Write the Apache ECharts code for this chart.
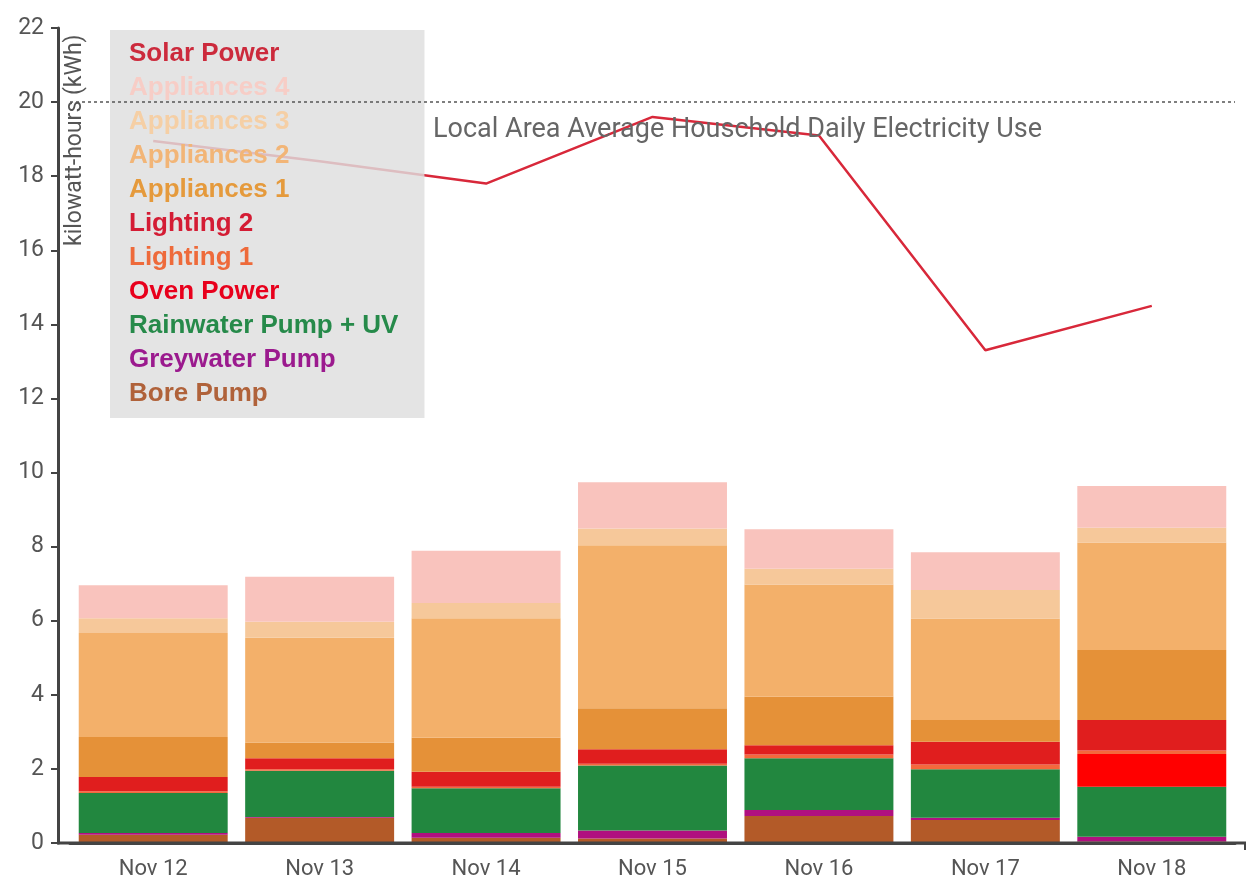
<!DOCTYPE html>
<html>
<head>
<meta charset="utf-8">
<title>Daily Electricity Use</title>
<script src="https://cdn.jsdelivr.net/npm/echarts@6/dist/echarts.min.js"></script>
<style>
    html, body { margin: 0; padding: 0; background: #fff; }
    #chart { width: 1249px; height: 887px; }
</style>
</head>
<body>
<div id="chart"></div>
<script>
// data (kWh per day)
var categories = ['Nov 12', 'Nov 13', 'Nov 14', 'Nov 15', 'Nov 16', 'Nov 17', 'Nov 18'];
var borePump = [0.22, 0.68, 0.14, 0.12, 0.73, 0.62, 0.04];
var greywaterPump = [0.05, 0.02, 0.13, 0.22, 0.16, 0.06, 0.13];
var rainwaterPump = [1.08, 1.25, 1.21, 1.75, 1.40, 1.31, 1.35];
var ovenPower = [0, 0, 0, 0, 0, 0, 0.88];
var lighting1 = [0.05, 0.04, 0.04, 0.05, 0.10, 0.13, 0.10];
var lighting2 = [0.38, 0.30, 0.40, 0.39, 0.25, 0.61, 0.82];
var appliances1 = [1.08, 0.42, 0.92, 1.11, 1.31, 0.59, 1.89];
var appliances2 = [2.81, 2.83, 3.23, 4.40, 3.03, 2.74, 2.90];
var appliances3 = [0.40, 0.43, 0.41, 0.45, 0.42, 0.77, 0.40];
var appliances4 = [0.89, 1.22, 1.41, 1.25, 1.07, 1.02, 1.13];
var solarPower = [18.95, 18.4, 17.8, 19.6, 19.1, 13.3, 14.5];
var averageUse = 20;
var yMin = 0, yMax = 22, yStep = 2;

var labelFont = "'Liberation Sans Narrow', Roboto, sans-serif";

// stacked from the bottom up
var stackDefs = [
    { name: 'Bore Pump', data: borePump, color: '#b35a28', text: '#b0623a' },
    { name: 'Greywater Pump', data: greywaterPump, color: '#b0107f', text: '#9b1a8e' },
    { name: 'Rainwater Pump + UV', data: rainwaterPump, color: '#22873f', text: '#268a4a' },
    { name: 'Oven Power', data: ovenPower, color: '#ff0000', text: '#e8001c' },
    { name: 'Lighting 1', data: lighting1, color: '#f4683c', text: '#ee6a3a' },
    { name: 'Lighting 2', data: lighting2, color: '#e01e1e', text: '#d41c34' },
    { name: 'Appliances 1', data: appliances1, color: '#e59138', text: '#e59a3c' },
    { name: 'Appliances 2', data: appliances2, color: '#f3b06a', text: '#f2b577' },
    { name: 'Appliances 3', data: appliances3, color: '#f6c89a', text: '#f5cfa5' },
    { name: 'Appliances 4', data: appliances4, color: '#f9c3bd', text: '#f7cdc6' }
];

var series = stackDefs.map(function (d) {
    return {
        name: d.name,
        type: 'bar',
        stack: 'use',
        data: d.data,
        barCategoryGap: '10.5%',
        itemStyle: { color: d.color },
        emphasis: { disabled: true }
    };
});

// dotted average line hangs off the top bar series
series[series.length - 1].markLine = {
    silent: true,
    symbol: 'none',
    label: { show: false },
    lineStyle: { color: '#555', type: [3, 3], width: 1.5 },
    data: [{ yAxis: averageUse }]
};

series.push({
    name: 'Solar Power',
    type: 'line',
    data: solarPower,
    symbol: 'none',
    lineStyle: { color: '#d8283a', width: 2.5 },
    itemStyle: { color: '#d8283a' }
});

var legendData = [{ name: 'Solar Power', textStyle: { color: '#cc2a3c' } }];
for (var i = stackDefs.length - 1; i >= 0; i--) {
    legendData.push({ name: stackDefs[i].name, textStyle: { color: stackDefs[i].text } });
}

var chart = echarts.init(document.getElementById('chart'));

var option = {
    animation: false,
    backgroundColor: '#fff',
    grid: { left: 70, right: 14, top: 28, bottom: 44, containLabel: false },
    legend: {
        data: legendData,
        orient: 'vertical',
        left: 110,
        top: 30,
        padding: [11, 26, 11, 13],
        itemGap: 8,
        itemWidth: 0,
        itemHeight: 0,
        selectedMode: false,
        backgroundColor: 'rgba(222,222,222,0.82)',
        textStyle: {
            fontFamily: "'Liberation Sans', Arial, sans-serif",
            fontWeight: 'bold',
            fontSize: 26,
            lineHeight: 24
        }
    },
    xAxis: {
        type: 'category',
        data: categories,
        axisLine: { lineStyle: { color: '#444', width: 3 } },
        axisTick: { alignWithLabel: true, length: 6, lineStyle: { color: '#444', width: 2 } },
        axisLabel: { color: '#555', fontSize: 22, fontFamily: labelFont, margin: 15 }
    },
    yAxis: {
        type: 'value',
        min: yMin,
        max: yMax,
        interval: yStep,
        offset: 12,
        splitLine: { show: false },
        axisLine: { show: true, lineStyle: { color: '#444', width: 3 } },
        axisTick: { show: true, length: 7, lineStyle: { color: '#444', width: 2 } },
        axisLabel: { color: '#555', fontSize: 23, fontFamily: labelFont, margin: 14 }
    },
    series: series
};

chart.setOption(option);

// extend the x axis line to meet the y axis, and write the labels
var y0 = chart.convertToPixel({ yAxisIndex: 0 }, yMin);
var yAvg = chart.convertToPixel({ yAxisIndex: 0 }, averageUse);
var yTop = chart.convertToPixel({ yAxisIndex: 0 }, yMax);
chart.setOption({
    graphic: [
        {
            type: 'line',
            shape: { x1: 57, y1: y0, x2: 1246, y2: y0 },
            style: { stroke: '#444', lineWidth: 3 },
            z: 10
        },
        {
            type: 'line',
            shape: { x1: 1245, y1: y0, x2: 1245, y2: y0 + 7 },
            style: { stroke: '#444', lineWidth: 2 },
            z: 10
        },
        {
            type: 'text',
            x: 433,
            y: yAvg + 28,
            style: {
                text: 'Local Area Average Houschold Daily Electricity Use',
                font: "27px " + labelFont,
                fill: '#666',
                textAlign: 'left',
                textVerticalAlign: 'middle'
            },
            z: 10
        },
        {
            type: 'text',
            x: 75,
            y: yTop + 218,
            rotation: Math.PI / 2,
            style: {
                text: 'kilowatt-hours (kWh)',
                font: "23px " + labelFont,
                fill: '#555',
                textAlign: 'left',
                textVerticalAlign: 'middle'
            },
            z: 10
        }
    ]
});
</script>
</body>
</html>
